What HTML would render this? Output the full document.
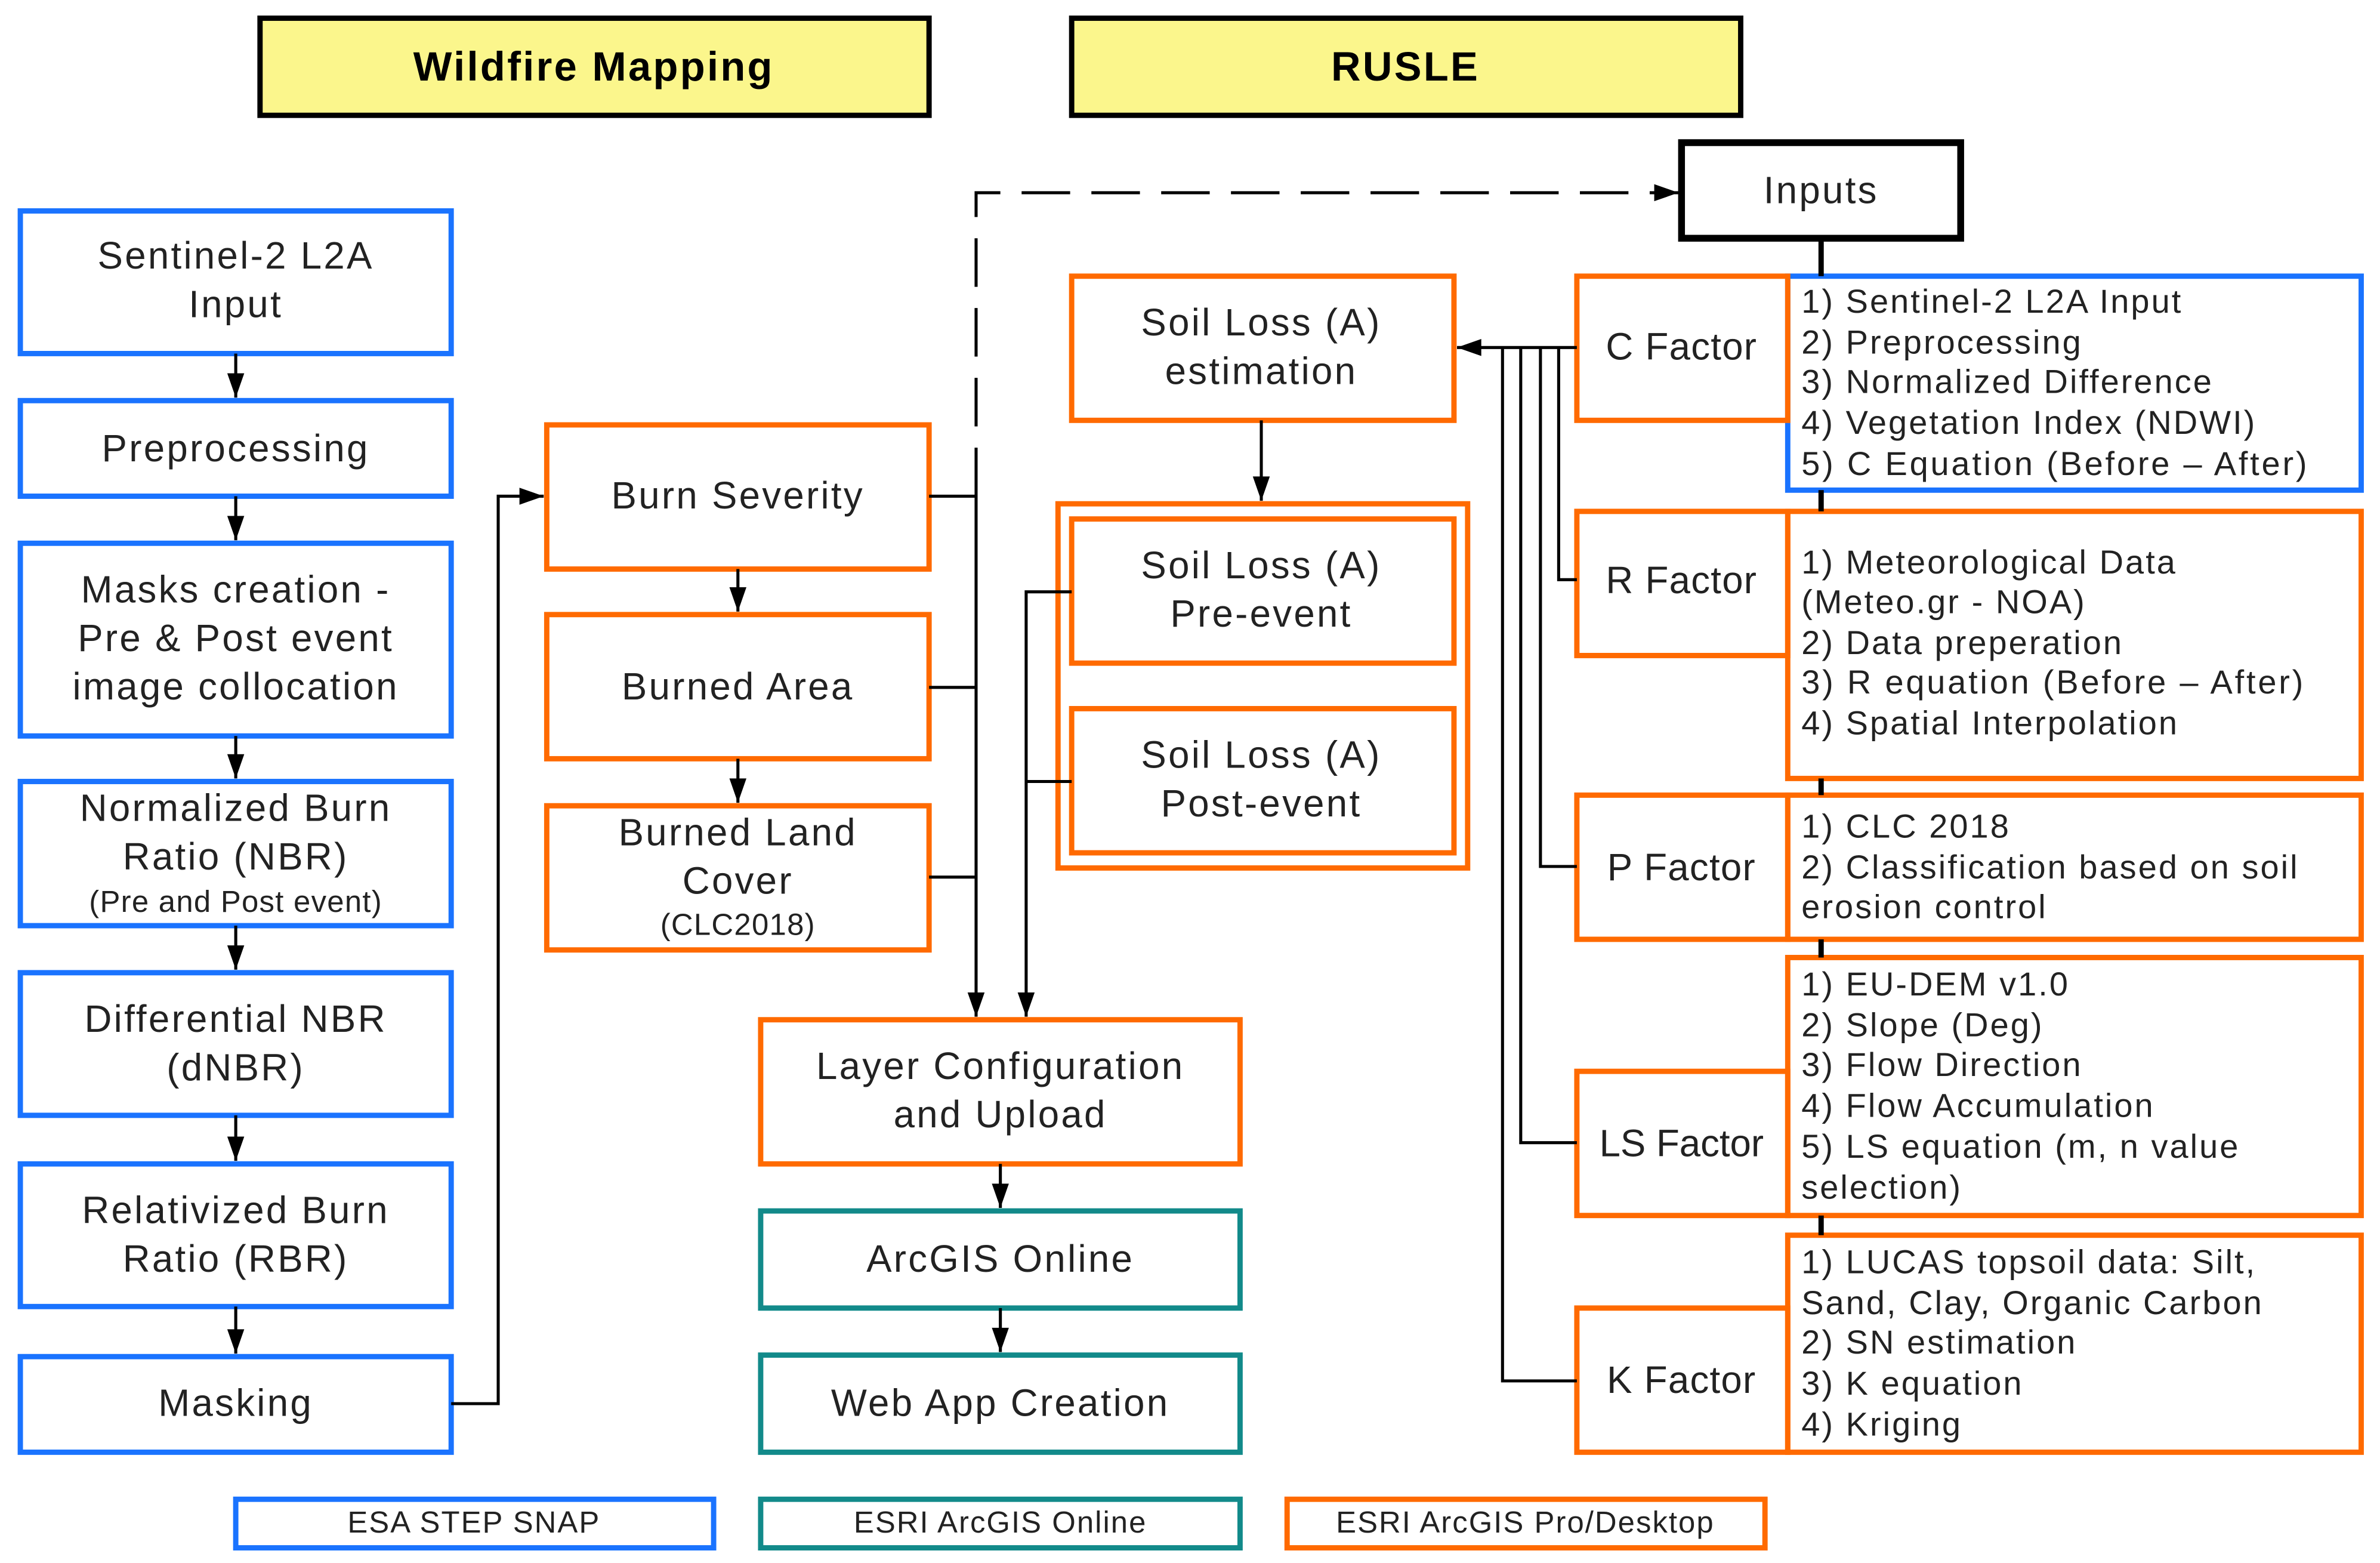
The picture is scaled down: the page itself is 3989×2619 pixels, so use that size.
<!DOCTYPE html>
<html><head><meta charset="utf-8"><style>
html,body{margin:0;padding:0;background:#fff;}
svg{display:block}
text{font-family:"Liberation Sans","DejaVu Sans",sans-serif;fill:#222;}
</style></head><body>
<svg width="3989" height="2619" viewBox="0 0 1568 1030" xmlns="http://www.w3.org/2000/svg">
<defs>
<marker id="b" viewBox="0 0 10 10" refX="10" refY="5" markerWidth="20" markerHeight="16" markerUnits="userSpaceOnUse" orient="auto"><path d="M0,1.5 L10,5 L0,8.5 z" fill="#000"/></marker>
</defs>
<g fill="none" stroke-width="3.5">
<rect x="171" y="12" width="441" height="64" fill="#fbf68c" stroke="#000"/>
<rect x="706" y="12" width="441" height="64" fill="#fbf68c" stroke="#000"/>
<g stroke="#1a73ff">
<rect x="13" y="139" width="284" height="94"/>
<rect x="13" y="264" width="284" height="63"/>
<rect x="13" y="358" width="284" height="127"/>
<rect x="13" y="515" width="284" height="95"/>
<rect x="13" y="641" width="284" height="94"/>
<rect x="13" y="767" width="284" height="94"/>
<rect x="13" y="894" width="284" height="63"/>
<rect x="155" y="988" width="315" height="32"/>
<rect x="1178" y="182" width="378" height="141"/>
</g>
<g stroke="#ff6a00">
<rect x="360" y="280" width="252" height="95"/>
<rect x="360" y="405" width="252" height="95"/>
<rect x="360" y="531" width="252" height="95"/>
<rect x="706" y="182" width="252" height="95"/>
<rect x="697" y="332" width="270" height="240"/>
<rect x="706" y="342" width="252" height="95"/>
<rect x="706" y="467" width="252" height="95"/>
<rect x="501" y="672" width="316" height="95"/>
<rect x="848" y="988" width="315" height="32"/>
<rect x="1178" y="337" width="378" height="176"/>
<rect x="1178" y="524" width="378" height="95"/>
<rect x="1178" y="631" width="378" height="170"/>
<rect x="1178" y="814" width="378" height="143"/>
<rect x="1039" y="182" width="139" height="95"/>
<rect x="1039" y="337" width="139" height="95"/>
<rect x="1039" y="524" width="139" height="95"/>
<rect x="1039" y="706" width="139" height="95"/>
<rect x="1039" y="862" width="139" height="95"/>
</g>
<g stroke="#128a8a">
<rect x="501" y="798" width="316" height="64"/>
<rect x="501" y="893" width="316" height="64"/>
<rect x="501" y="988" width="316" height="32"/>
</g>
<rect x="1108" y="94" width="184" height="63" stroke="#000" stroke-width="4.5"/>
</g>
<g stroke="#000" stroke-width="2" fill="none">
<line x1="1200" y1="157" x2="1200" y2="182" stroke-width="3.5"/>
<line x1="1200" y1="323" x2="1200" y2="337" stroke-width="3.5"/>
<line x1="1200" y1="513" x2="1200" y2="524" stroke-width="3.5"/>
<line x1="1200" y1="619" x2="1200" y2="631" stroke-width="3.5"/>
<line x1="1200" y1="801" x2="1200" y2="814" stroke-width="3.5"/>
<line x1="155" y1="233" x2="155" y2="262" marker-end="url(#b)"/>
<line x1="155" y1="327" x2="155" y2="356" marker-end="url(#b)"/>
<line x1="155" y1="485" x2="155" y2="513" marker-end="url(#b)"/>
<line x1="155" y1="610" x2="155" y2="639" marker-end="url(#b)"/>
<line x1="155" y1="735" x2="155" y2="765" marker-end="url(#b)"/>
<line x1="155" y1="861" x2="155" y2="892" marker-end="url(#b)"/>
<polyline points="297,925 328,925 328,327 358,327" marker-end="url(#b)"/>
<line x1="486" y1="375" x2="486" y2="403" marker-end="url(#b)"/>
<line x1="486" y1="500" x2="486" y2="529" marker-end="url(#b)"/>
<line x1="612" y1="327" x2="643" y2="327"/>
<line x1="612" y1="453" x2="643" y2="453"/>
<line x1="612" y1="578" x2="643" y2="578"/>
<line x1="643" y1="327" x2="643" y2="670" marker-end="url(#b)"/>
<polyline points="643,327 643,127 1106,127" stroke-dasharray="32,14" marker-end="url(#b)"/>
<line x1="831" y1="277" x2="831" y2="330" marker-end="url(#b)"/>
<polyline points="706,390 676,390 676,670" marker-end="url(#b)"/>
<line x1="706" y1="515" x2="676" y2="515"/>
<line x1="659" y1="767" x2="659" y2="796" marker-end="url(#b)"/>
<line x1="659" y1="862" x2="659" y2="891" marker-end="url(#b)"/>
<line x1="1039" y1="229" x2="960" y2="229" marker-end="url(#b)"/>
<polyline points="1039,382 1027,382 1027,229"/>
<polyline points="1039,571 1015,571 1015,229"/>
<polyline points="1039,753 1002,753 1002,229"/>
<polyline points="1039,910 990,910 990,229"/>
</g>
<g font-size="25" text-anchor="middle" letter-spacing="1.3">
<text x="391" y="53" font-weight="bold" font-size="27" style="fill:#000">Wildfire Mapping</text>
<text x="926" y="53" font-weight="bold" font-size="27" style="fill:#000">RUSLE</text>
<text x="1200" y="134">Inputs</text>
<text x="155" y="177">Sentinel-2 L2A</text><text x="155" y="209">Input</text>
<text x="155" y="304">Preprocessing</text>
<text x="155" y="397">Masks creation -</text><text x="155" y="429">Pre &amp; Post event</text><text x="155" y="461">image collocation</text>
<text x="155" y="541">Normalized Burn</text><text x="155" y="573">Ratio (NBR)</text><text x="155" y="601" font-size="20" letter-spacing="0.5">(Pre and Post event)</text>
<text x="155" y="680">Differential NBR</text><text x="155" y="712">(dNBR)</text>
<text x="155" y="806">Relativized Burn</text><text x="155" y="838">Ratio (RBR)</text>
<text x="155" y="933">Masking</text>
<text x="486" y="335">Burn Severity</text>
<text x="486" y="461">Burned Area</text>
<text x="486" y="557">Burned Land</text><text x="486" y="589">Cover</text><text x="486" y="616" font-size="20" letter-spacing="0.5">(CLC2018)</text>
<text x="831" y="221">Soil Loss (A)</text><text x="831" y="253">estimation</text>
<text x="831" y="381">Soil Loss (A)</text><text x="831" y="413">Pre-event</text>
<text x="831" y="506">Soil Loss (A)</text><text x="831" y="538">Post-event</text>
<text x="659" y="711">Layer Configuration</text><text x="659" y="743">and Upload</text>
<text x="659" y="838">ArcGIS Online</text>
<text x="659" y="933">Web App Creation</text>
<text x="1108" y="237" letter-spacing="0.5">C Factor</text>
<text x="1108" y="391" letter-spacing="0.5">R Factor</text>
<text x="1108" y="580" letter-spacing="0.5">P Factor</text>
<text x="1108" y="762" letter-spacing="0">LS Factor</text>
<text x="1108" y="918" letter-spacing="0.5">K Factor</text>
</g>
<g font-size="20" text-anchor="middle" letter-spacing="0.8">
<text x="312" y="1010">ESA STEP SNAP</text>
<text x="659" y="1010">ESRI ArcGIS Online</text>
<text x="1005" y="1010">ESRI ArcGIS Pro/Desktop</text>
</g>
<g font-size="22" letter-spacing="1.2">
<text x="1187" y="206">1) Sentinel-2 L2A Input</text>
<text x="1187" y="233">2) Preprocessing</text>
<text x="1187" y="259">3) Normalized Difference</text>
<text x="1187" y="286">4) Vegetation Index (NDWI)</text>
<text x="1187" y="313" letter-spacing="1.5">5) C Equation (Before – After)</text>
<text x="1187" y="378">1) Meteorological Data</text>
<text x="1187" y="404">(Meteo.gr - NOA)</text>
<text x="1187" y="431">2) Data preperation</text>
<text x="1187" y="457" letter-spacing="1.5">3) R equation (Before – After)</text>
<text x="1187" y="484">4) Spatial Interpolation</text>
<text x="1187" y="552">1) CLC 2018</text>
<text x="1187" y="579">2) Classification based on soil</text>
<text x="1187" y="605">erosion control</text>
<text x="1187" y="656">1) EU-DEM v1.0</text>
<text x="1187" y="683">2) Slope (Deg)</text>
<text x="1187" y="709">3) Flow Direction</text>
<text x="1187" y="736">4) Flow Accumulation</text>
<text x="1187" y="763">5) LS equation (m, n value</text>
<text x="1187" y="790">selection)</text>
<text x="1187" y="839">1) LUCAS topsoil data: Silt,</text>
<text x="1187" y="866">Sand, Clay, Organic Carbon</text>
<text x="1187" y="892">2) SN estimation</text>
<text x="1187" y="919">3) K equation</text>
<text x="1187" y="946">4) Kriging</text>
</g>
</svg>
</body></html>
